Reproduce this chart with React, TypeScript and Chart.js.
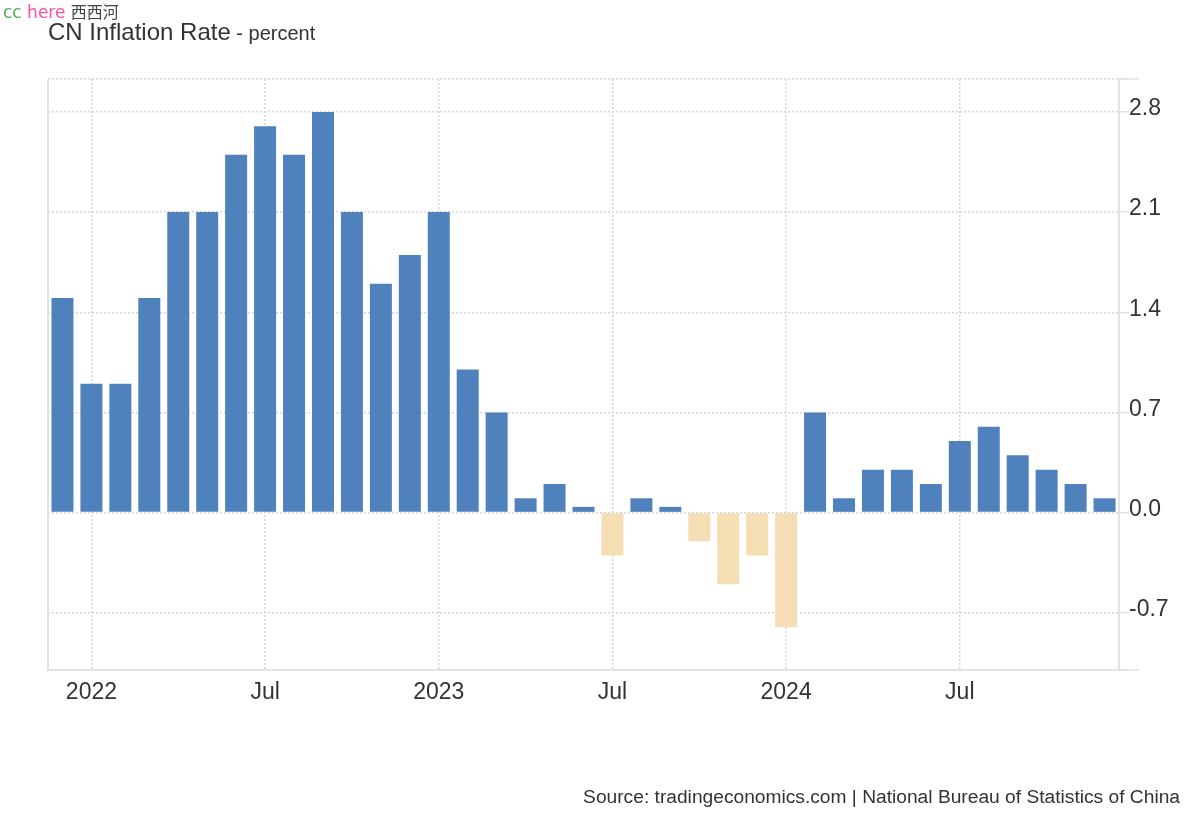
import React, { useEffect, useRef } from 'react';
import { Chart, registerables } from 'chart.js';

Chart.register(...registerables);

// ---- Data ----
const months: string[] = [
  'Dec 2021',
  'Jan 2022', 'Feb 2022', 'Mar 2022', 'Apr 2022', 'May 2022', 'Jun 2022',
  'Jul 2022', 'Aug 2022', 'Sep 2022', 'Oct 2022', 'Nov 2022', 'Dec 2022',
  'Jan 2023', 'Feb 2023', 'Mar 2023', 'Apr 2023', 'May 2023', 'Jun 2023',
  'Jul 2023', 'Aug 2023', 'Sep 2023', 'Oct 2023', 'Nov 2023', 'Dec 2023',
  'Jan 2024', 'Feb 2024', 'Mar 2024', 'Apr 2024', 'May 2024', 'Jun 2024',
  'Jul 2024', 'Aug 2024', 'Sep 2024', 'Oct 2024', 'Nov 2024', 'Dec 2024',
];

const inflationRate: number[] = [
  1.5,
  0.9, 0.9, 1.5, 2.1, 2.1, 2.5,
  2.7, 2.5, 2.8, 2.1, 1.6, 1.8,
  2.1, 1.0, 0.7, 0.1, 0.2, 0.04,
  -0.3, 0.1, 0.04, -0.2, -0.5, -0.3,
  -0.8, 0.7, 0.1, 0.3, 0.3, 0.2,
  0.5, 0.6, 0.4, 0.3, 0.2, 0.1,
];

// x-axis labels shown at these months
const xAxisLabels: Record<string, string> = {
  'Jan 2022': '2022',
  'Jul 2022': 'Jul',
  'Jan 2023': '2023',
  'Jul 2023': 'Jul',
  'Jan 2024': '2024',
  'Jul 2024': 'Jul',
};

const yTickValues: number[] = [-0.7, 0.0, 0.7, 1.4, 2.1, 2.8];
const yMin = -1.1;
const yMax = 3.03;

const titleText = 'CN Inflation Rate';
const subtitleText = ' - percent';
const sourceText = 'Source: tradingeconomics.com | National Bureau of Statistics of China';

// ---- Styles ----
const FONT = '"Liberation Sans", Arial, Helvetica, sans-serif';
const POS_COLOR = '#4f81bd';
const NEG_COLOR = '#f5deb3';
const GRID_COLOR = '#d6d6d6';
const AXIS_COLOR = '#e3e3e3';
const TEXT_COLOR = '#333333';

const extrasPlugin = {
  id: 'extras',
  afterDraw(chart: any) {
    const { ctx, chartArea } = chart;
    ctx.save();
    // left border line
    ctx.strokeStyle = AXIS_COLOR;
    ctx.lineWidth = 2;
    ctx.beginPath();
    ctx.moveTo(chartArea.left, chartArea.top + 1);
    ctx.lineTo(chartArea.left, chartArea.bottom);
    ctx.stroke();
    // long tick marks at top and bottom of right axis
    ctx.lineWidth = 1.5;
    ctx.beginPath();
    ctx.moveTo(chartArea.right, chartArea.top);
    ctx.lineTo(chartArea.right + 20, chartArea.top);
    ctx.moveTo(chartArea.right, chartArea.bottom);
    ctx.lineTo(chartArea.right + 20, chartArea.bottom);
    ctx.stroke();
    ctx.restore();
  },
};

function InflationChart() {
  const canvasRef = useRef<HTMLCanvasElement | null>(null);

  useEffect(() => {
    if (!canvasRef.current) return;
    const chart = new Chart(canvasRef.current, {
      type: 'bar',
      data: {
        labels: months,
        datasets: [
          {
            label: 'Inflation Rate',
            data: inflationRate,
            backgroundColor: inflationRate.map((v) => (v >= 0 ? POS_COLOR : NEG_COLOR)),
            borderWidth: 0,
            barPercentage: 0.76,
            categoryPercentage: 1.0,
          },
        ],
      },
      options: {
        animation: false,
        responsive: false,
        maintainAspectRatio: false,
        devicePixelRatio: 1,
        layout: { padding: { left: 48, top: 79, right: 0, bottom: 0 } },
        plugins: {
          legend: { display: false },
          tooltip: { enabled: false },
          title: { display: false },
        },
        scales: {
          x: {
            type: 'category',
            offset: true,
            grid: {
              offset: false,
              drawTicks: false,
              lineWidth: 1.5,
              color: (ctx: any) =>
                xAxisLabels[months[ctx.index]] ? GRID_COLOR : 'rgba(0,0,0,0)',
            },
            border: { display: true, color: AXIS_COLOR, width: 2, dash: [2, 2] },
            ticks: {
              autoSkip: false,
              maxRotation: 0,
              minRotation: 0,
              padding: 9,
              color: TEXT_COLOR,
              font: { family: FONT, size: 23 },
              callback: (_v: any, i: number) => xAxisLabels[months[i]] || '',
            },
            afterFit: (s: any) => {
              s.height = 150;
            },
          },
          y: {
            position: 'right',
            min: yMin,
            max: yMax,
            afterBuildTicks: (s: any) => {
              s.ticks = [yMin, ...yTickValues, yMax].map((v) => ({ value: v }));
            },
            grid: {
              lineWidth: 1.5,
              color: GRID_COLOR,
              drawTicks: true,
              tickLength: 10,
              tickColor: AXIS_COLOR,
              tickWidth: 1.5,
            },
            border: { display: true, color: AXIS_COLOR, width: 2, dash: [2, 2] },
            ticks: {
              padding: 0,
              labelOffset: -3,
              color: TEXT_COLOR,
              font: { family: FONT, size: 23 },
              callback: (v: any) =>
                yTickValues.some((t) => Math.abs(t - v) < 1e-9) ? Number(v).toFixed(1) : '',
            },
            afterFit: (s: any) => {
              s.width = 81;
            },
          },
        },
      },
      plugins: [extrasPlugin],
    } as any);
    return () => chart.destroy();
  }, []);

  return (
    <canvas
      ref={canvasRef}
      width={1200}
      height={820}
      style={{ position: 'absolute', left: 0, top: 0, width: 1200, height: 820, display: 'block' }}
    />
  );
}

export default function App() {
  return (
    <div
      style={{
        position: 'absolute',
        left: 0,
        top: 0,
        width: 1200,
        height: 820,
        background: '#ffffff',
        overflow: 'hidden',
      }}
    >
      <InflationChart />
      <div
        style={{
          position: 'absolute',
          left: 3,
          top: 1,
          fontFamily: '"DejaVu Sans", sans-serif',
          fontSize: 17,
          lineHeight: '20px',
          whiteSpace: 'nowrap',
        }}
      >
        <span style={{ color: '#4caf50' }}>cc</span>{' '}
        <span style={{ color: '#ff4fa3' }}>here</span>{' '}
        <span style={{ color: '#444444', fontFamily: '"Noto Sans CJK SC", sans-serif', fontSize: 16 }}>西西河</span>
      </div>
      <div
        style={{
          position: 'absolute',
          left: 48,
          top: 20,
          fontFamily: FONT,
          fontSize: 24,
          lineHeight: '24px',
          color: TEXT_COLOR,
          whiteSpace: 'nowrap',
        }}
      >
        {titleText}
        <span style={{ fontSize: 20 }}>{subtitleText}</span>
      </div>
      <div
        style={{
          position: 'absolute',
          right: 20,
          top: 787,
          fontFamily: FONT,
          fontSize: 19.2,
          lineHeight: '19px',
          color: TEXT_COLOR,
          whiteSpace: 'nowrap',
        }}
      >
        {sourceText}
      </div>
    </div>
  );
}
